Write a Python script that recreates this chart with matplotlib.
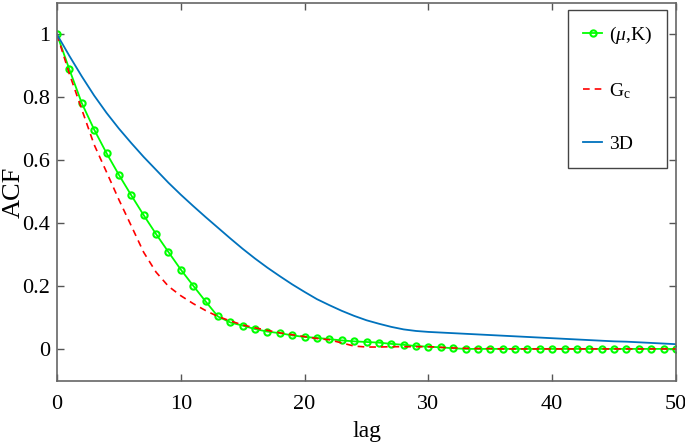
import matplotlib
matplotlib.use('Agg')
import matplotlib.pyplot as plt
import numpy as np

lags = np.arange(0, 51)

acf_muk = [1.000, 0.889, 0.782, 0.698, 0.623, 0.554, 0.489, 0.426, 0.366, 0.309,
           0.253, 0.202, 0.152, 0.104, 0.085, 0.075, 0.064, 0.056, 0.051, 0.044,
           0.039, 0.036, 0.032, 0.028, 0.025, 0.023, 0.021, 0.017, 0.014, 0.010,
           0.008, 0.006, 0.003, 0.001, 0.001, 0.001, 0.001, 0.001, 0.001, 0.001,
           0.001, 0.001, 0.001, 0.001, 0.001, 0.001, 0.001, 0.001, 0.001, 0.001,
           0.001]

acf_gc = [1.000, 0.875, 0.762, 0.650, 0.563, 0.475, 0.392, 0.308, 0.245, 0.200,
          0.170, 0.145, 0.123, 0.104, 0.090, 0.077, 0.068, 0.060, 0.052, 0.046,
          0.040, 0.034, 0.030, 0.020, 0.010, 0.007, 0.007, 0.008, 0.008, 0.008,
          0.008, 0.006, 0.004, 0.003, 0.002, 0.002, 0.001, 0.001, 0.001, 0.001,
          0.001, 0.001, 0.001, 0.001, 0.001, 0.001, 0.001, 0.001, 0.001, 0.001,
          0.001]

acf_3d = [1.000, 0.932, 0.867, 0.806, 0.751, 0.701, 0.655, 0.611, 0.570, 0.529,
          0.491, 0.455, 0.420, 0.386, 0.352, 0.319, 0.288, 0.259, 0.232, 0.206,
          0.182, 0.159, 0.140, 0.122, 0.106, 0.092, 0.081, 0.071, 0.063, 0.058,
          0.055, 0.053, 0.051, 0.049, 0.047, 0.045, 0.043, 0.041, 0.039, 0.037,
          0.035, 0.033, 0.031, 0.029, 0.027, 0.025, 0.024, 0.022, 0.020, 0.018,
          0.016]

plt.rcParams['font.family'] = ['Liberation Serif', 'DejaVu Serif']
plt.rcParams['mathtext.fontset'] = 'custom'
plt.rcParams['mathtext.rm'] = 'Liberation Serif'
plt.rcParams['mathtext.it'] = 'Liberation Serif:italic'

fig = plt.figure(figsize=(6.85, 4.45), dpi=100)
ax = fig.add_axes([57 / 685, 1 - 380.7 / 445, (676 - 57) / 685, (380.7 - 3) / 445])

ax.plot(lags, acf_muk, '-o', color=(0, 1, 0), lw=1.3, ms=4.5, mfc='none',
        mew=1.5, label=r'($\mu$,K)')
ax.plot(lags, acf_gc, '--', color=(1, 0, 0), lw=1.2, dashes=(4, 3),
        label=r'G$_\mathregular{c}$')
ax.plot(lags, acf_3d, '-', color=(0, 0.447, 0.741), lw=1.3, label='3D')

ax.set_xlim(0, 50)
ax.set_ylim(-0.1, 1.1)
ax.set_xticks([0, 10, 20, 30, 40, 50])
ax.set_yticks([0, 0.2, 0.4, 0.6, 0.8, 1.0])
ax.set_yticklabels(['0', '0.2', '0.4', '0.6', '0.8', '1'])
ax.tick_params(direction='in', top=True, right=True, length=5, width=1,
               color='#555555', labelsize=16)
ax.tick_params(axis='x', pad=10)
ax.tick_params(axis='y', pad=5)
for s in ax.spines.values():
    s.set_color('#666666')
    s.set_linewidth(1.2)

ax.set_xlabel('lag', fontsize=17, labelpad=5)
ax.set_ylabel('ACF', fontsize=19)
ax.yaxis.set_label_coords(-0.052, 0.5)

leg = ax.legend(loc='upper right', bbox_to_anchor=(0.985, 0.981), fontsize=14,
                fancybox=False, framealpha=1, edgecolor='#444444',
                handlelength=1.0, handletextpad=0.35, labelspacing=1.8,
                borderpad=0.75, borderaxespad=0)
leg.get_frame().set_linewidth(1.0)

fig.savefig('out.png', dpi=100)
